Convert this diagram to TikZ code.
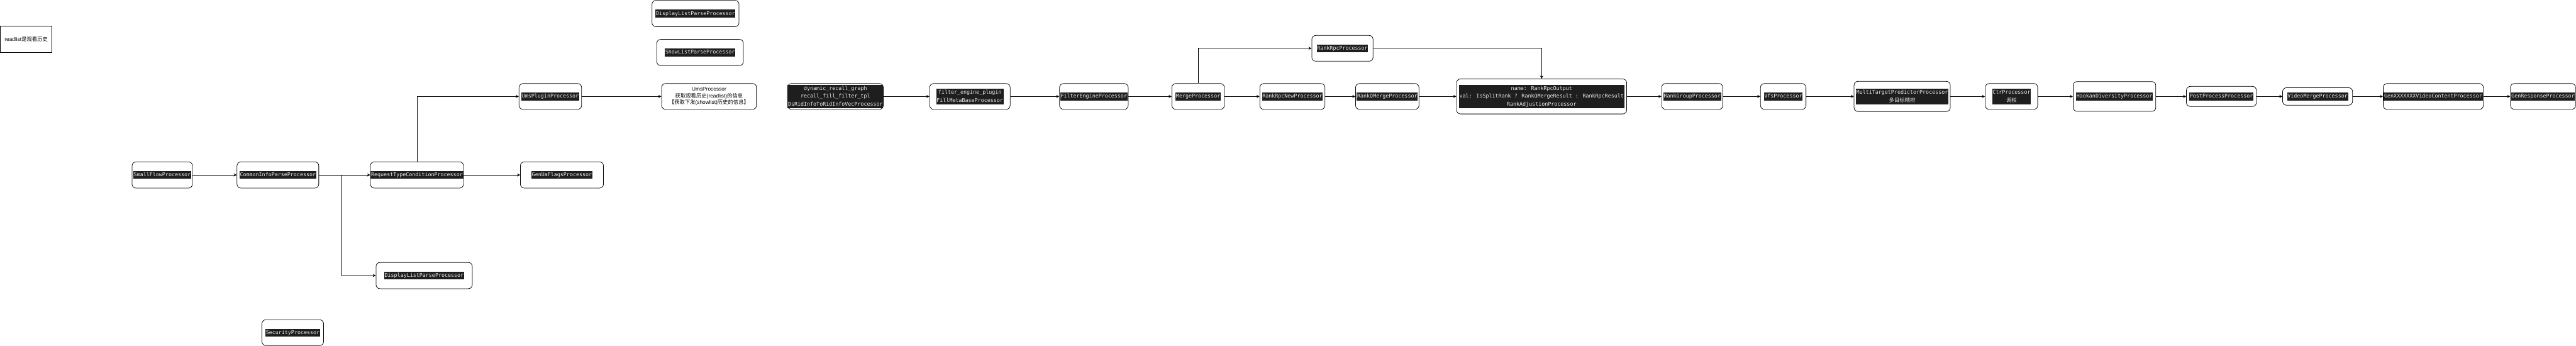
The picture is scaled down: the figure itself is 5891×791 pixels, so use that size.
\documentclass[tikz,border=0pt]{standalone}
\usepackage{fontspec}
\setmainfont{Liberation Sans}
\newfontfamily\cjk{Noto Sans CJK SC}
\newfontfamily\codefont{DejaVu Sans Mono}
\usetikzlibrary{arrows.meta}
\definecolor{codebg}{HTML}{1E1E1E}
\definecolor{codefg}{HTML}{EAEAEA}
\newcommand\hl[1]{{\fboxsep=0pt\colorbox{codebg}{\kern1pt\textcolor{codefg}{\strut #1}\kern1pt}}}
\newcommand\hlm[1]{{\fboxsep=0pt\colorbox{codebg}{\color{codefg}\begin{tabular}{@{\kern1pt}c@{\kern1pt}}#1\end{tabular}}}}
\begin{document}
\begin{tikzpicture}[x=1pt,y=-1pt,
  box/.style={draw, line width=1.1pt, rounded corners=9pt, fill=white, inner sep=0pt, align=center, font=\codefont\fontsize{12}{18}\selectfont},
  wh/.style 2 args={minimum width=#1pt, minimum height=#2pt},
  conn/.style={draw, line width=1.1pt, -{Stealth[length=7pt,width=7pt]}}]
\fill[white] (0,0) rectangle (5891,791);
\useasboundingbox (0,0) rectangle (5891,791);

% legend-like note
\node[draw, line width=1.1pt, inner sep=0pt, wh={118}{60}, font=\fontsize{12}{15}\selectfont] (readlist) at (60,90) {readlist{\cjk 是观看历史}};

% left lower row
\node[box, wh={138}{60}] (smallflow) at (371,400) {\hl{SmallFlowProcessor}};
\node[box, wh={187}{60}] (commoninfo) at (635.5,400) {\hl{CommonInfoParseProcessor}};
\node[box, wh={213}{60}] (request) at (953.5,400) {\hl{RequestTypeConditionProcessor}};
\node[box, wh={190}{60}] (genua) at (1285,400) {\hl{GenUaFlagsProcessor}};
\node[box, wh={220}{60}] (dlbot) at (970,630) {\hl{DisplayListParseProcessor}};
\node[box, wh={141}{59}] (security) at (669.5,760.5) {\hl{SecurityProcessor}};
\coordinate (br) at (781,400);

% top stand-alone boxes
\node[box, wh={199}{60}] (dltop) at (1590.5,31) {\hl{DisplayListParseProcessor}};
\node[box, wh={198}{60}] (showlist) at (1601,120) {\hl{ShowListParseProcessor}};

% main row
\node[box, wh={143}{59}] (umsplug) at (1258.5,220.5) {\hl{UmsPluginProcessor}};
\node[box, wh={217}{59}, font=\fontsize{12}{15}\selectfont] (umsproc) at (1621.5,220.5)
  {UmsProcessor\\{\cjk 获取观看历史}(readlist){\cjk 的信息}\\{\cjk 【获取下发}(showlist){\cjk 历史的信息】}};
\node[box, wh={219}{59}] (dyn) at (1910.5,220.5) {\hlm{dynamic\_recall\_graph\\recall\_fill\_filter\_tpl\\DsRidInfoToRidInfoVecProcessor}};
\node[box, wh={184}{59}] (fep) at (2218,220.5) {\hlm{filter\_engine\_plugin\\FillMetaBaseProcessor}};
\node[box, wh={157}{59}] (filtereng) at (2501.5,220.5) {\hl{FilterEngineProcessor}};
\node[box, wh={120}{59}] (merge) at (2740,220.5) {\hl{MergeProcessor}};
\node[box, wh={149}{59}] (rpcnew) at (2955.5,220.5) {\hl{RankRpcNewProcessor}};
\node[box, wh={140}{59}] (rankrpc) at (3070,110.5) {\hl{RankRpcProcessor}};
\node[box, wh={145}{59}] (qmerge) at (3172.5,220.5) {\hl{RankQMergeProcessor}};
\node[box, wh={389}{80}] (big) at (3525.5,220.5) {\hlm{name: RankRpcOutput\\val: IsSplitRank ? RankQMergeResult : RankRpcResult\\RankAdjustionProcessor}};
\node[box, wh={140}{59}] (rankgroup) at (3870,220.5) {\hl{RankGroupProcessor}};
\node[box, wh={104}{59}] (vfs) at (4078,220.5) {\hl{VfsProcessor}};
\node[box, wh={220}{69}] (multi) at (4350,220.5) {\hlm{MultiTargetPredictorProcessor\\{\cjk 多目标精排}}};
\node[box, wh={120}{59}] (ctr) at (4600,220.5) {\hlm{CtrProcessor\\{\cjk 调权}}};
\node[box, wh={189}{68}] (haokan) at (4835.5,220.5) {\hl{HaokanDiversityProcessor}};
\node[box, wh={160}{46}] (post) at (5080,220.5) {\hl{PostProcessProcessor}};
\node[box, wh={160}{40}] (vmerge) at (5300,220.5) {\hl{VideoMergeProcessor}};
\node[box, wh={229}{59}] (genx) at (5564.5,220.5) {\hl{GenXXXXXXXVideoContentProcessor}};
\node[box, wh={149}{59}] (genresp) at (5815.5,220.5) {\hl{GenResponseProcessor}};

% connectors
\draw[conn] (smallflow) -- (commoninfo);
\draw[conn] (commoninfo) -- (request);
\draw[conn] (commoninfo.east) -- (br) |- (dlbot.west);
\draw[conn] (request) -- (genua);
\draw[conn] (request.north) |- (umsplug.west);
\draw[conn] (umsplug) -- (umsproc);
\draw[conn] (dyn) -- (fep);
\draw[conn] (fep) -- (filtereng);
\draw[conn] (filtereng) -- (merge);
\draw[conn] (merge) -- (rpcnew);
\draw[conn] (merge.north) |- (rankrpc.west);
\draw[conn] (rpcnew) -- (qmerge);
\draw[conn] (qmerge) -- (big);
\draw[conn] (rankrpc.east) -| (big.north);
\draw[conn] (big) -- (rankgroup);
\draw[conn] (rankgroup) -- (vfs);
\draw[conn] (vfs) -- (multi);
\draw[conn] (multi) -- (ctr);
\draw[conn] (ctr) -- (haokan);
\draw[conn] (haokan) -- (post);
\draw[conn] (post) -- (vmerge);
\draw[conn] (vmerge) -- (genx);
\draw[conn] (genx) -- (genresp);
\end{tikzpicture}
\end{document}
